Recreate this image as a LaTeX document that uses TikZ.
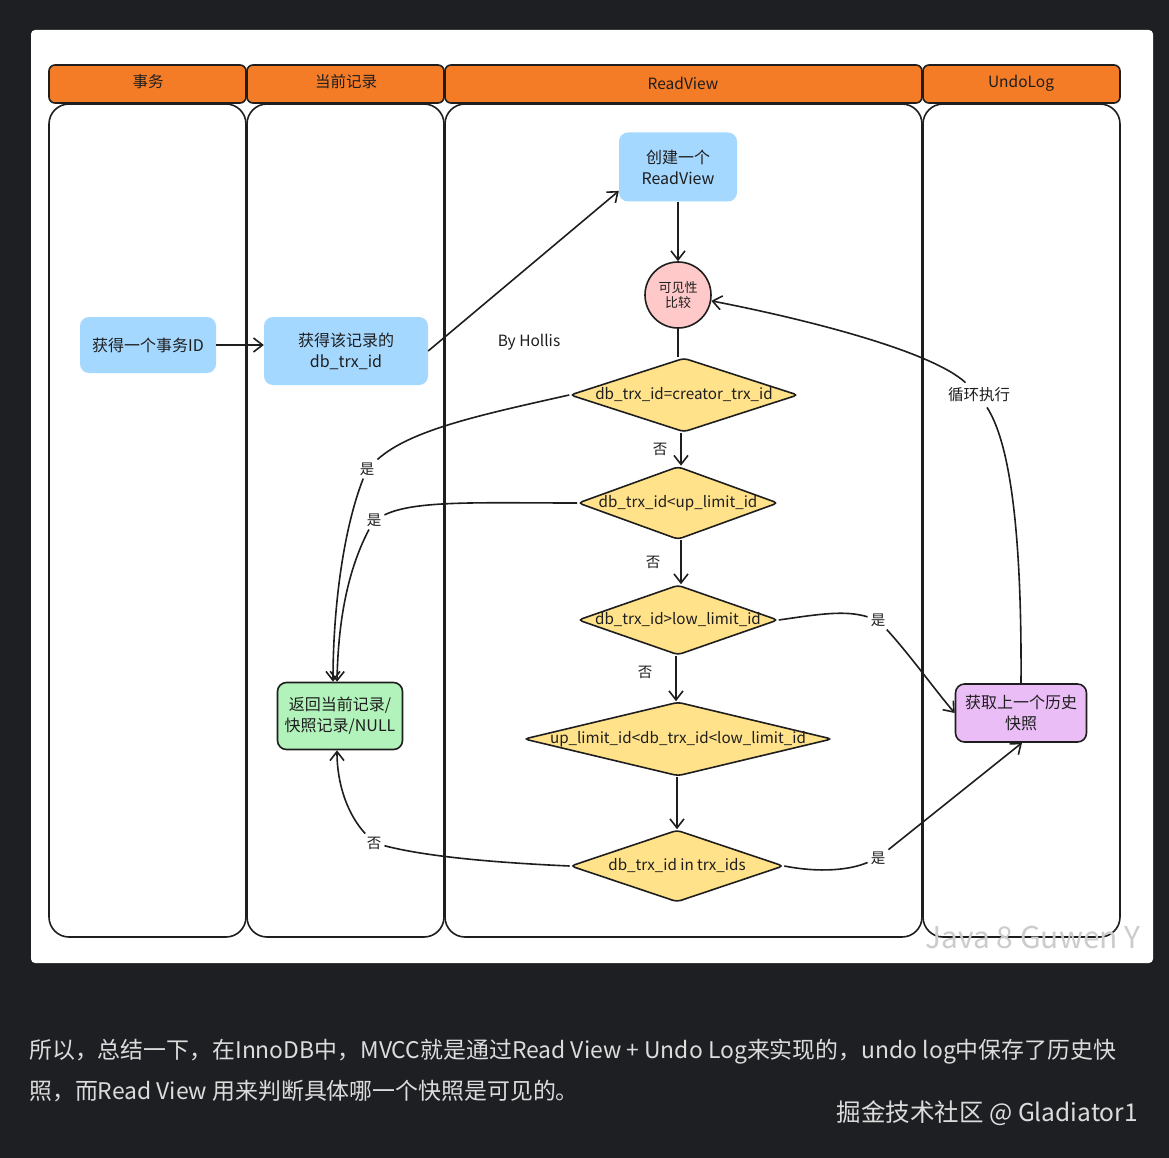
\documentclass[tikz,border=0pt]{standalone}
\usepackage{fontspec}
\setmainfont{Noto Sans CJK SC}
\usetikzlibrary{shapes.geometric,arrows.meta}
\definecolor{bgdark}{HTML}{1E1F22}
\definecolor{ink}{HTML}{1E1E1E}
\definecolor{corange}{HTML}{F57C26}
\definecolor{cblue}{HTML}{A5D8FF}
\definecolor{cpink}{HTML}{FFC9C9}
\definecolor{cyellow}{HTML}{FFE28A}
\definecolor{cgreen}{HTML}{B2F2BB}
\definecolor{cpurple}{HTML}{EBBDF7}
\definecolor{captext}{HTML}{DCDCDC}
\begin{document}
\begin{tikzpicture}[x=1pt,y=-1pt,
  lanebody/.style={draw=ink, line width=1.6pt, fill=white, rounded corners=20pt},
  lanehead/.style={draw=ink, line width=1.6pt, fill=corange, rounded corners=6pt},
  headtxt/.style={text=ink, font=\fontsize{15.5}{18}\selectfont},
  box/.style={rounded corners=9pt, align=center, text=ink, inner sep=2pt, font=\fontsize{16}{21}\selectfont},
  bluebox/.style={box, fill=cblue},
  dia/.style={diamond, draw=ink, line width=1.6pt, fill=cyellow, inner sep=0pt, rounded corners=4pt, text=ink, font=\fontsize{15.2}{17}\selectfont},
  lbl/.style={text=ink, inner sep=3pt, font=\fontsize{14.5}{16}\selectfont},
  conn/.style={draw=ink, line width=1.6pt},
  arr/.style={conn, -{Straight Barb[length=9pt,width=14pt,line width=1.6pt]}}
]
\useasboundingbox (0,0) rectangle (1169,1158);
\fill[bgdark] (0,0) rectangle (1169,1158);
\fill[white, rounded corners=4pt] (31,30) rectangle (1153,963);

% lanes
\draw[lanebody] (49,104) rectangle (246,937);
\draw[lanebody] (247,104) rectangle (444,937);
\draw[lanebody] (445,104) rectangle (922,937);
\draw[lanebody] (923,104) rectangle (1120,937);
\draw[lanehead] (49,65) rectangle (246,103);
\draw[lanehead] (247,65) rectangle (444,103);
\draw[lanehead] (445,65) rectangle (922,103);
\draw[lanehead] (923,65) rectangle (1120,103);
\node[headtxt] (h1) at (148,82) {事务};
\node[headtxt] (h2) at (346,82) {当前记录};
\node[headtxt] (h3) at (683,83) {ReadView};
\node[headtxt] (h4) at (1021,83) {UndoLog};

% nodes
\node[bluebox, minimum width=136pt, minimum height=56pt] (tx) at (148,345) {获得一个事务ID};
\node[bluebox, minimum width=164pt, minimum height=68pt] (rec) at (346,351) {获得该记录的\\db\_trx\_id};
\node[bluebox, minimum width=118pt, minimum height=69pt] (rv) at (678,167) {创建一个\\ReadView};
\node[circle, draw=ink, line width=1.6pt, fill=cpink, minimum size=66pt, inner sep=0pt, align=center, text=ink, font=\fontsize{13}{15}\selectfont] (cmp) at (678,295) {可见性\\比较};
\node[dia, minimum width=228pt, minimum height=74pt] (d1) at (684,395) {\makebox[0pt]{db\_trx\_id=creator\_trx\_id}};
\node[dia, minimum width=200pt, minimum height=73pt] (d2) at (678,503) {\makebox[0pt]{db\_trx\_id<up\_limit\_id}};
\node[dia, minimum width=200pt, minimum height=70pt] (d3) at (678,620) {\makebox[0pt]{db\_trx\_id>low\_limit\_id}};
\node[dia, minimum width=308pt, minimum height=74pt] (d4) at (678,739) {\makebox[0pt]{up\_limit\_id<db\_trx\_id<low\_limit\_id}};
\node[dia, minimum width=213pt, minimum height=72pt] (d5) at (677,866) {\makebox[0pt]{db\_trx\_id in trx\_ids}};
\node[box, draw=ink, line width=1.6pt, fill=cgreen, minimum width=125pt, minimum height=67pt] (ret) at (340,716) {返回当前记录/\\快照记录/NULL};
\node[box, draw=ink, line width=1.6pt, fill=cpurple, minimum width=131pt, minimum height=58pt] (pur) at (1021,713) {获取上一个历史\\快照};

\node[lbl, font=\fontsize{15.5}{18}\selectfont] (by) at (529,342) {By Hollis};

% labels
\node[lbl] (n1) at (660,449) {否};
\node[lbl] (n2) at (653,562) {否};
\node[lbl] (n3) at (645,672) {否};
\node[lbl] (y1) at (367,469) {是};
\node[lbl] (y2) at (374,520) {是};
\node[lbl] (n5) at (374,843) {否};
\node[lbl] (y3) at (878,620) {是};
\node[lbl] (y5) at (878,858) {是};
\node[lbl, inner sep=5pt, font=\fontsize{15.5}{18}\selectfont] (loop) at (979,395) {循环执行};

% connectors
\draw[arr] (tx.east) -- (rec.west |- tx.east);
\draw[arr] (rec.east) -- (rv.202);
\draw[arr] (rv.south) -- (cmp.north);
\draw[conn] (cmp.south) -- (d1.north -| cmp.south);
\draw[arr] (d1.south -| 681,0) -- (d2.north -| 681,0);
\draw[arr] (d2.south -| 681,0) -- (d3.north -| 681,0);
\draw[arr] (d3.south -| 676,0) -- (d4.north -| 676,0);
\draw[arr] (d4.south -| 677,0) -- (d5.north -| 677,0);

\draw[conn] (d1.west) .. controls (480,415) and (410,430) .. (y1);
\draw[arr] (y1) .. controls (343,530) and (333,610) .. ([xshift=-7pt]ret.north);
\draw[conn] (d2.west) .. controls (480,503) and (415,500) .. (y2);
\draw[arr] (y2) .. controls (345,575) and (338,630) .. ([xshift=-3pt]ret.north);
\draw[conn] (d5.west) .. controls (480,862) and (420,855) .. (n5);
\draw[arr] (n5) .. controls (348,815) and (337,785) .. ([xshift=-3pt]ret.south);
\draw[conn] (d3.east) .. controls (820,614) and (845,610) .. (y3);
\draw[arr] (y3) .. controls (910,655) and (935,690) .. (pur.west);
\draw[conn] (d5.east) .. controls (820,873) and (850,870) .. (y5);
\draw[arr] (y5) -- ([xshift=1pt]pur.south);
\draw[conn] (pur.north) .. controls (1022,520) and (1008,440) .. (loop);
\draw[arr] (loop) .. controls (930,350) and (800,318) .. (cmp.-10);

% watermark
\node[text=gray!40, font=\fontsize{30}{30}\selectfont, inner sep=0pt] (wm) at (1033,937) {Java 8 Guwen Y};

% caption
\node[anchor=west, text=captext, inner sep=0pt, font=\fontsize{22.9}{26}\selectfont] (c1) at (29,1052) {所以，总结一下，在InnoDB中，MVCC就是通过Read View + Undo Log来实现的，undo log中保存了历史快};
\node[anchor=west, text=captext, inner sep=0pt, font=\fontsize{22.9}{26}\selectfont] (c2) at (29,1091) {照，而Read View 用来判断具体哪一个快照是可见的。};
\node[anchor=east, text=captext, inner sep=0pt, font=\fontsize{24.5}{28}\selectfont] (c3) at (1138,1113) {掘金技术社区 @ Gladiator1};
\end{tikzpicture}
\end{document}
